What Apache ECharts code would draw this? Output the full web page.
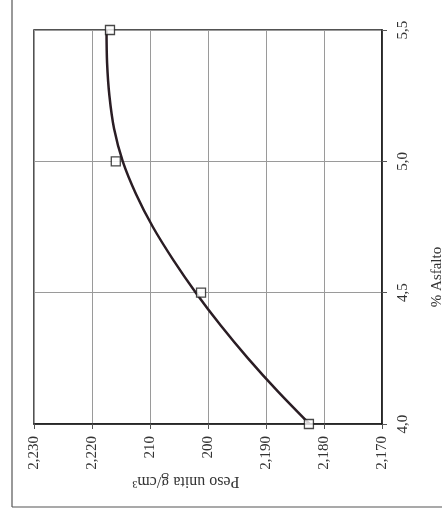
<!DOCTYPE html>
<html>
<head>
<meta charset="utf-8">
<script src="https://cdn.jsdelivr.net/npm/echarts@6/dist/echarts.min.js"></script>
<style>
html,body{margin:0;padding:0;background:#fff;}
#c{width:442px;height:510px;}
</style>
</head>
<body>
<div id="c"></div>
<script>
// Data
var asfalto = [4.0, 4.5, 5.0, 5.5];                 // % Asfalto
var peso = [2.1826, 2.2012, 2.2159, 2.2169];        // Peso unita g/cm3 (measured)
// Trend curve read off the picture
var curveAsfalto = [4.0, 4.125, 4.25, 4.375, 4.5, 4.625, 4.75, 4.875, 5.0, 5.125, 5.25, 5.375, 5.5];
var curvePeso = [2.1825, 2.1880, 2.1931, 2.1978, 2.2021, 2.2060, 2.2095, 2.2124, 2.2147, 2.2162, 2.2170, 2.2174, 2.2175];
// Tick labels as printed
var pesoTicks = ["2,170", "2,180", "2,190", "200", "210", "2,220", "2,230"];
var asfaltoTicks = ["4,0", "4,5", "5,0", "5,5"];

var FONT = "'Liberation Serif','Times New Roman',serif";
var chart = echarts.init(document.getElementById('c'));
var pts = asfalto.map(function (a, i) { return [peso[i], a]; });
var curve = curveAsfalto.map(function (a, i) { return [curvePeso[i], a]; });

chart.setOption({
  backgroundColor: '#fff',
  animation: false,
  grid: { left: 34, right: 60, top: 30, bottom: 86, show: true, borderColor: '#1a1a1a', borderWidth: 1.5 },
  xAxis: {
    type: 'value', min: 2.17, max: 2.23, interval: 0.01, inverse: true, position: 'bottom',
    axisLine: { show: true, lineStyle: { color: '#1a1a1a', width: 1.5 } },
    axisTick: { show: true, length: 5, lineStyle: { color: '#555' } },
    splitLine: { show: true, lineStyle: { color: '#9a9a9a', width: 1 } },
    axisLabel: {
      rotate: 90, margin: 12, color: '#333', fontFamily: FONT, fontSize: 15,
      formatter: function (v) { return pesoTicks[Math.round((v - 2.17) * 100)]; }
    }
  },
  yAxis: {
    type: 'value', min: 4.0, max: 5.5, interval: 0.5, position: 'right',
    axisLine: { show: true, lineStyle: { color: '#1a1a1a', width: 1.5 } },
    axisTick: { show: true, length: 5, lineStyle: { color: '#555' } },
    splitLine: { show: true, lineStyle: { color: '#9a9a9a', width: 1 } },
    axisLabel: {
      rotate: 90, margin: 14, color: '#333', fontFamily: FONT, fontSize: 15,
      formatter: function (v) { return asfaltoTicks[Math.round((v - 4.0) * 2)]; }
    }
  },
  graphic: [
    { type: 'line', shape: { x1: 12, y1: 0, x2: 12, y2: 507 }, style: { stroke: '#555', lineWidth: 1.2 } },
    { type: 'line', shape: { x1: 12, y1: 507, x2: 442, y2: 507 }, style: { stroke: '#555', lineWidth: 1.2 } },
    { type: 'text', x: 186, y: 481, rotation: Math.PI,
      style: { text: 'Peso unita g/cm³', fill: '#333', font: '16px ' + FONT, textAlign: 'center', textVerticalAlign: 'middle' } },
    { type: 'text', x: 437, y: 277, rotation: Math.PI / 2,
      style: { text: '% Asfalto', fill: '#333', font: '15px ' + FONT, textAlign: 'center', textVerticalAlign: 'middle' } }
  ],
  series: [
    { type: 'line', data: curve, smooth: 0.3, showSymbol: false, symbol: 'none',
      lineStyle: { color: '#2a1d24', width: 2.5 }, z: 3 },
    { type: 'scatter', data: pts, symbol: 'rect', symbolSize: 9,
      itemStyle: { color: '#fff', borderColor: '#1a1a1a', borderWidth: 1.3 }, z: 4 }
  ]
});
</script>
</body>
</html>
